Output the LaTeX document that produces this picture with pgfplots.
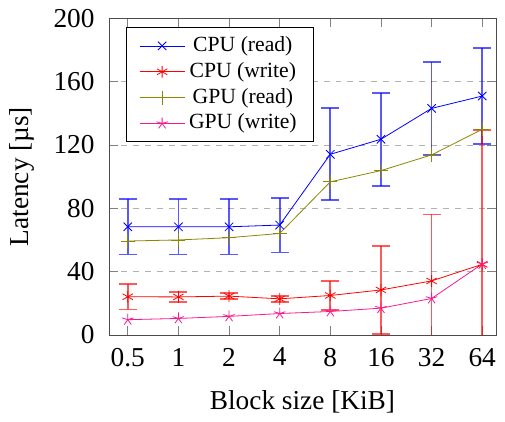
\documentclass[border=0pt]{standalone}
\usepackage{fontspec}
\setmainfont{Liberation Serif}
\usepackage{pgfplots}
\pgfplotsset{compat=1.18}
\definecolor{gpuw}{rgb}{0.98,0.1,0.55}
\begin{document}
\fontsize{13.75}{16}\selectfont
\begin{tikzpicture}[x=1bp,y=1bp]
\begin{axis}[
  width=194bp, height=158.75bp, scale only axis,
  /pgf/number format/assume math mode=true,
  xmin=-0.37, xmax=7.27, ymin=0, ymax=200,
  xtick={0,1,2,3,4,5,6,7},
  xticklabels={0.5,1,2,4,8,16,32,64},
  ytick={0,40,80,120,160,200},
  ymajorgrids, grid style={dashed, gray!60},
  tick style={gray, thin},
  axis line style={black!70},
  xlabel={Block size [KiB]},
  ylabel={Latency [µs]},
  ylabel shift=0.5bp,
  yticklabel shift=2.5bp,
  xticklabel shift=1.8bp,
  xlabel shift=2.5bp,
  ticklabel style={font=\fontsize{13.75}{16}\selectfont},
  label style={font=\fontsize{13.75}{16}\selectfont},
  legend style={at={(0.045,0.972)}, anchor=north west, font=\fontsize{10.9}{12.5}\selectfont, row sep=-0.6bp, inner xsep=6.2bp, inner ysep=2.4bp},
  legend cell align=center,
  legend image code/.code={\draw[mark repeat=2,mark phase=2] plot coordinates {(0bp,0bp) (11.3bp,0bp) (22.6bp,0bp)};},
  every axis plot/.append style={thin},
  error bars/error bar style={line width=0.9pt, opacity=0.65},
  error bars/error mark options={rotate=90, mark size=4.5pt, line width=0.9pt},
]
\addplot[blue, mark=x, mark size=3pt, error bars/.cd, y dir=both, y explicit] coordinates {
 (0,68.3) +- (0,17.5) (1,68.3) +- (0,17.5) (2,68.3) +- (0,17.5) (3,69.4) +- (0,17.3)
 (4,114.1) +- (0,29) (5,123.6) +- (0,29.3) (6,143.1) +- (0,29.5) (7,150.9) +- (0,30.2)};
\addlegendentry{CPU (read)}
\addplot[red, mark=asterisk, mark size=3pt, error bars/.cd, y dir=both, y explicit] coordinates {
 (0,24.1) +- (0,8) (1,24.0) +- (0,3) (2,24.5) +- (0,2) (3,22.8) +- (0,2)
 (4,24.9) +- (0,9.4) (5,28.4) +- (0,28) (6,34.1) +- (0,42) (7,44.6) +- (0,84.8)};
\addlegendentry{CPU (write)}
\addplot[olive, mark=+, mark size=3.5pt] coordinates {
 (0,59.3) (1,60.0) (2,61.4) (3,64.1)
 (4,96.7) (5,103.8) (6,113.7) (7,129.9)};
\addlegendentry{GPU (read)}
\addplot[gpuw, mark=star, mark size=3pt] coordinates {
 (0,9.6) (1,10.4) (2,11.7) (3,13.5) (4,14.8) (5,16.9) (6,23.0) (7,44.8)};
\addlegendentry{GPU (write)}
\end{axis}
\end{tikzpicture}
\end{document}
